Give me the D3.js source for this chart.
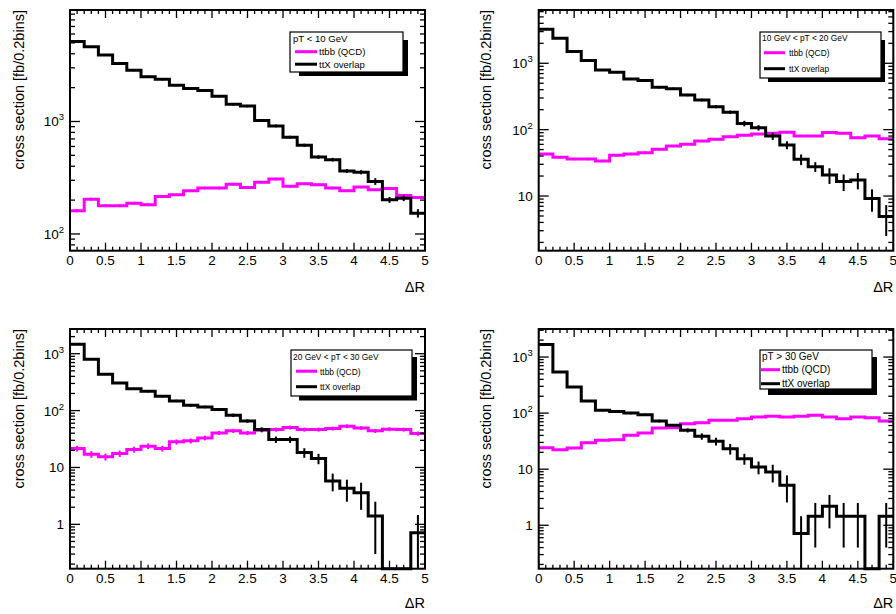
<!DOCTYPE html>
<html><head><meta charset="utf-8">
<script src="https://cdn.jsdelivr.net/npm/d3@7"></script>
<style>
html,body{margin:0;padding:0;background:#fff;}
svg{display:block;}
text{font-family:"Liberation Sans",Arial,Helvetica,sans-serif;fill:#000;}
</style>
</head><body>
<svg id="c" width="896" height="614"></svg>
<script>
// ---------------- DATA ----------------
const binLow = [0,0.2,0.4,0.6,0.8,1.0,1.2,1.4,1.6,1.8,2.0,2.2,2.4,2.6,2.8,3.0,3.2,3.4,3.6,3.8,4.0,4.2,4.4,4.6,4.8];
const binWidth = 0.2;
const panelTitles = ["pT < 10 GeV", "10 GeV < pT < 20 GeV", "20 GeV < pT < 30 GeV", "pT > 30 GeV"];
const seriesNames = ["ttbb (QCD)", "ttX overlap"];
const xTitle = "\u0394R";
const yTitle = "cross section [fb/0.2bins]";
const xTickValues = [0,0.5,1,1.5,2,2.5,3,3.5,4,4.5,5];
const xTickLabels = ["0","0.5","1","1.5","2","2.5","3","3.5","4","4.5","5"];

// panel 1 : pT < 10 GeV
const ttbb_1    = [161,204,178,178,188,182,215,223,242,256,256,277,259,289,308,265,279,274,256,242,261,247,254,220,211];
const ttbbErr_1 = [5,6,5,5,5,5,6,6,6,7,7,7,7,7,8,7,7,7,7,6,7,6,7,6,6];
const ttX_1     = [5140,4610,3910,3270,2850,2500,2370,2100,1960,1890,1680,1420,1370,1020,914,725,615,484,458,363,354,293,201,208,153];
const ttXErr_1  = [90,80,70,60,55,50,50,45,42,40,38,35,35,28,26,22,20,18,17,15,15,20,12,12,13];
// panel 2 : 10 < pT < 20 GeV
const ttbb_2    = [43.0,38.3,36.1,36.1,33.7,41.0,43.0,45.0,50.6,56.7,60.1,67.5,71.5,78.4,82.2,86.1,88.1,91.2,80.4,80.4,90.2,88.1,75.7,80.4,73.1];
const ttbbErr_2 = [1.8,1.6,1.5,1.5,1.4,1.7,1.8,1.9,2.1,2.3,2.4,2.7,2.8,3.1,3.2,3.4,3.5,3.6,3.2,3.2,3.6,3.5,3.0,3.2,2.9];
const ttX_2     = [3260,2380,1500,1100,793,731,580,548,435,415,333,280,222,183,124,107,80,58.8,35.7,27.7,20.7,16.5,17.4,9.2,4.9];
const ttXErr_2  = [45,38,30,26,22,21,19,18,16,15,14,13,12,11,12,10,10,8,6.5,4.7,5.5,4.6,4.8,3.4,2.4];
// panel 3 : 20 < pT < 30 GeV
const ttbb_3    = [21.5,17.1,15.4,17.6,20.7,23.7,21.5,28.2,29.4,33.1,40.5,44.0,40.5,45.2,46.4,50.4,46.4,46.4,48.3,53.1,49.6,44.0,47.1,46.4,39.5];
const ttbbErr_3 = [2.5,2.3,2.2,2.3,2.5,2.7,2.5,2.9,3.0,3.2,3.5,3.7,3.5,3.8,3.8,4.0,3.8,3.8,3.9,4.1,3.9,3.7,3.8,3.8,3.5];
const ttX_3     = [1460,796,434,305,243,218,178,148,124,116,104,82.8,65.9,46.4,31.0,31.0,18.3,14.4,5.8,4.3,3.6,1.4,0,0,0.71];
const ttXErr_3  = [25,18,13,11,9,9,8,7,7,6,6,6,5,4.5,4,4,3.5,3,2,1.8,1.8,1.1,0,0,0.75];
// panel 4 : pT > 30 GeV
const ttbb_4    = [24.2,22.3,23.9,29.7,32.7,33.6,40.1,44.2,54.2,55.0,64.9,67.5,74.3,74.3,79.6,85.2,87.6,85.2,87.6,91.2,85.2,79.6,85.2,82.8,72.2];
const ttbbErr_4 = [1.2,1.1,1.2,1.3,1.4,1.4,1.6,1.7,1.9,2.0,2.2,2.3,2.4,2.4,2.5,2.6,2.6,2.6,2.6,2.7,2.6,2.5,2.6,2.5,2.4];
const ttX_4     = [1680,541,292,164,112,107,100,93.7,72.2,60.5,49.3,38.5,31.4,23.2,15.4,10.9,8.9,5.15,0.71,1.45,2.18,1.45,1.45,0,1.45];
const ttXErr_4  = [25,14,10,7,5,5,5,4.5,4,3.3,4.2,5,5,5,3.4,2.8,3.1,2.6,0.74,1.05,1.3,1.05,1.05,0,1.05];

// y tick labels (value, base, exponent)
const yTickLabels_1 = [[100,"10","2"],[1000,"10","3"]];
const yTickLabels_2 = [[10,"10",""],[100,"10","2"],[1000,"10","3"]];
const yTickLabels_3 = [[1,"1",""],[10,"10",""],[100,"10","2"],[1000,"10","3"]];
const yTickLabels_4 = [[1,"1",""],[10,"10",""],[100,"10","2"],[1000,"10","3"]];

// ---------------- LAYOUT ----------------
const panels = [
  {ttbb:ttbb_1, ttbbErr:ttbbErr_1, ttX:ttX_1, ttXErr:ttXErr_1, yTicks:yTickLabels_1, title:panelTitles[0],
   x0:70, x1:425, yTop:10, yBot:250.7, yMin:71, yMax:9800, ytX:24, xtY:292,
   leg:{x:290,y:32,w:113,h:40, sx:299,sy:40,sw:109,sh:36, fs:9.6, hx:293,hy:41.5, lx0:295,lx1:317, tx:319, e1:55, e2:67.5}},
  {ttbb:ttbb_2, ttbbErr:ttbbErr_2, ttX:ttX_2, ttXErr:ttXErr_2, yTicks:yTickLabels_2, title:panelTitles[1],
   x0:538.7, x1:893.3, yTop:10, yBot:250.7, yMin:1.5, yMax:6350, ytX:490.5, xtY:292,
   leg:{x:760,y:32,w:121,h:46, sx:768,sy:40,sw:117,sh:42, fs:8.4, hx:762,hy:41, lx0:764,lx1:785, tx:789, e1:56, e2:72}},
  {ttbb:ttbb_3, ttbbErr:ttbbErr_3, ttX:ttX_3, ttXErr:ttXErr_3, yTicks:yTickLabels_3, title:panelTitles[2],
   x0:70, x1:425, yTop:329, yBot:568.7, yMin:0.166, yMax:2720, ytX:24, xtY:608,
   leg:{x:291,y:350,w:121,h:46, sx:299,sy:357,sw:118,sh:43.5, fs:8.4, hx:293,hy:359.5, lx0:296,lx1:317, tx:320, e1:374.5, e2:390}},
  {ttbb:ttbb_4, ttbbErr:ttbbErr_4, ttX:ttX_4, ttXErr:ttXErr_4, yTicks:yTickLabels_4, title:panelTitles[3],
   x0:538.7, x1:893.3, yTop:329, yBot:568.7, yMin:0.168, yMax:3160, ytX:490.5, xtY:608,
   leg:{x:760,y:350,w:112,h:39, sx:768,sy:357,sw:109,sh:38, fs:10, hx:762,hy:359.5, lx0:761,lx1:780, tx:782, e1:373, e2:387}}
];
const colTtbb = "#ff00ff", colTtX = "#000000";

const svg = d3.select("#c");

panels.forEach(P => {
  const g = svg.append("g");
  const x = d3.scaleLinear().domain([0,5]).range([P.x0, P.x1]);
  const y = d3.scaleLog().domain([P.yMin, P.yMax]).range([P.yBot, P.yTop]).clamp(true);
  const yv = v => v > 0 ? y(v) : P.yBot;

  // histograms
  function drawHist(vals, errs, col) {
    let d = `M${x(binLow[0])},${yv(vals[0])}`;
    vals.forEach((v,i) => {
      if (i > 0) d += `V${yv(v)}`;
      d += `H${x(binLow[i] + binWidth)}`;
    });
    g.append("path").attr("d", d).attr("fill","none").attr("stroke", col)
      .attr("stroke-width", 3).attr("stroke-linejoin","miter").attr("stroke-linecap","butt");
    vals.forEach((v,i) => {
      if (!(v > 0)) return;
      const e = errs[i];
      const cx = x(binLow[i] + binWidth/2);
      g.append("line").attr("x1",cx).attr("x2",cx)
        .attr("y1", yv(v+e)).attr("y2", yv(v-e))
        .attr("stroke", col).attr("stroke-width", 2);
    });
  }
  drawHist(P.ttbb, P.ttbbErr, colTtbb);
  drawHist(P.ttX, P.ttXErr, colTtX);

  // frame
  g.append("rect").attr("x",P.x0).attr("y",P.yTop).attr("width",P.x1-P.x0).attr("height",P.yBot-P.yTop)
    .attr("fill","none").attr("stroke","#000").attr("stroke-width",2);

  // x ticks (major every 0.5, minor every 0.1), bottom & top
  const tk = g.append("g").attr("stroke","#000").attr("stroke-width",1.3);
  for (let k = 0; k <= 50; k++) {
    const xv = x(k/10);
    const len = (k % 5 === 0) ? 8 : 4;
    tk.append("line").attr("x1",xv).attr("x2",xv).attr("y1",P.yBot).attr("y2",P.yBot-len);
    tk.append("line").attr("x1",xv).attr("x2",xv).attr("y1",P.yTop).attr("y2",P.yTop+len);
  }
  // y log ticks, left & right
  const kMin = Math.floor(Math.log10(P.yMin)), kMax = Math.ceil(Math.log10(P.yMax));
  for (let k = kMin; k <= kMax; k++) {
    for (let m = 1; m <= 9; m++) {
      const v = m * Math.pow(10, k);
      if (v < P.yMin || v > P.yMax) continue;
      const yy = y(v), len = (m === 1) ? 10 : 5;
      tk.append("line").attr("x1",P.x0).attr("x2",P.x0+len).attr("y1",yy).attr("y2",yy);
      tk.append("line").attr("x1",P.x1).attr("x2",P.x1-len).attr("y1",yy).attr("y2",yy);
    }
  }

  // x tick labels
  xTickValues.forEach((v,i) => {
    g.append("text").attr("x", x(v)).attr("y", P.yBot + 14.5)
      .attr("text-anchor","middle").attr("font-size","13.5px").text(xTickLabels[i]);
  });
  // y tick labels
  P.yTicks.forEach(([v, base, ex]) => {
    const t = g.append("text").attr("x", P.x0 - 6).attr("y", y(v) + 5)
      .attr("text-anchor","end").attr("font-size","13.5px");
    t.append("tspan").text(base);
    if (ex) t.append("tspan").attr("dy",-6).attr("font-size","9.5px").text(ex);
  });

  // axis titles
  g.append("text").attr("transform",`translate(${P.ytX},${P.yTop}) rotate(-90)`)
    .attr("text-anchor","end").attr("font-size","14.5px").text(yTitle);
  g.append("text").attr("x", P.x1).attr("y", P.xtY).attr("text-anchor","end")
    .attr("font-size","14.5px").text(xTitle);

  // legend
  const L = P.leg;
  g.append("rect").attr("x",L.sx).attr("y",L.sy).attr("width",L.sw).attr("height",L.sh).attr("fill","#000");
  g.append("rect").attr("x",L.x).attr("y",L.y).attr("width",L.w).attr("height",L.h)
    .attr("fill","#fff").attr("stroke","#000").attr("stroke-width",1.2);
  g.append("text").attr("x",L.hx).attr("y",L.hy).attr("font-size",L.fs+"px").text(P.title);
  [[L.e1, colTtbb, seriesNames[0]], [L.e2, colTtX, seriesNames[1]]].forEach(([yy,col,name]) => {
    g.append("line").attr("x1",L.lx0).attr("x2",L.lx1).attr("y1",yy-3.3).attr("y2",yy-3.3)
      .attr("stroke",col).attr("stroke-width",3);
    g.append("text").attr("x",L.tx).attr("y",yy).attr("font-size",L.fs+"px").text(name);
  });
});
</script>
</body></html>
